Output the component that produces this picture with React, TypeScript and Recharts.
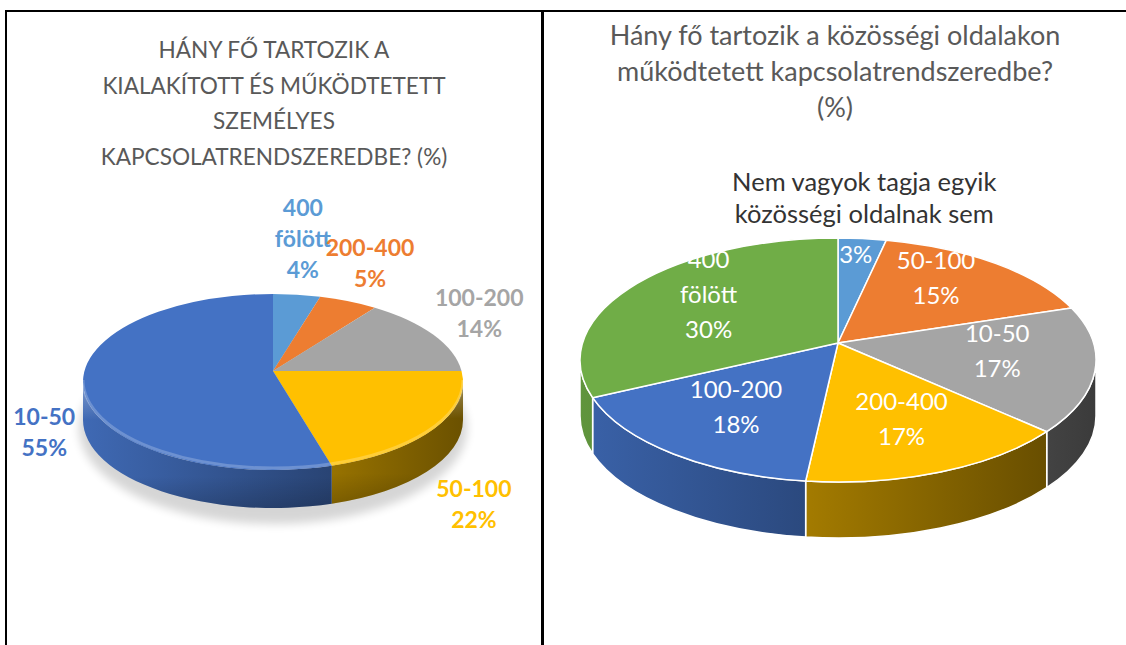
import { PieChart, Pie, Cell } from 'recharts'

// Left: size of the personal network (%)
const LEFT_NAMES = ['400 fölött', '200-400', '100-200', '50-100', '10-50']
const LEFT_VALUES = [4, 5, 14, 22, 55]
const LEFT_COLORS = ['#5B9BD5', '#ED7D31', '#A5A5A5', '#FFC000', '#4472C4']

// Right: size of the social-media network (%)
const RIGHT_NAMES = ['Nem vagyok tagja egyik közösségi oldalnak sem', '50-100', '10-50', '200-400', '100-200', '400 fölött']
const RIGHT_VALUES = [3, 15, 17, 17, 18, 30]
const RIGHT_COLORS = ['#5B9BD5', '#ED7D31', '#A5A5A5', '#FFC000', '#4472C4', '#70AD47']

const LEFT_TITLE = ['HÁNY FŐ TARTOZIK A', 'KIALAKÍTOTT ÉS MŰKÖDTETETT', 'SZEMÉLYES', 'KAPCSOLATRENDSZEREDBE? (%)']
const RIGHT_TITLE = ['Hány fő tartozik a közösségi oldalakon', 'működtetett kapcsolatrendszeredbe?', '(%)']

const leftData = LEFT_NAMES.map((name, i) => ({ name, value: LEFT_VALUES[i], i }))
const rightData = RIGHT_NAMES.map((name, i) => ({ name, value: RIGHT_VALUES[i], i }))

// fake-3D look: the pie is squashed to an ellipse and given a side wall
type Geo = {
  id: string; cx: number; cy: number; rx: number; ry: number
  depth: number; lift: number; edge: string; light: [number, number]; bevel: boolean
}
const LEFT_GEO: Geo = { id: 'l', cx: 273, cy: 382, rx: 190, ry: 88, depth: 38, lift: 11, edge: 'none', light: [0.92, 0.42], bevel: true }
const RIGHT_GEO: Geo = { id: 'r', cx: 838, cy: 360, rx: 258, ry: 122, depth: 56, lift: 17, edge: '#ffffff', light: [0.86, 0.36], bevel: false }

const RAD = Math.PI / 180
const FONT = 'Lato, "Open Sans", sans-serif'

const shade = (hex: string, f: number) => {
  const n = parseInt(hex.slice(1), 16)
  const r = Math.round(((n >> 16) & 255) * f)
  const g = Math.round(((n >> 8) & 255) * f)
  const b = Math.round((n & 255) * f)
  return `rgb(${r},${g},${b})`
}

const wrap = (s: string, max: number) => {
  const out: string[] = []
  let cur = ''
  for (const w of s.split(' ')) {
    if (cur && (cur + ' ' + w).length > max) { out.push(cur); cur = w }
    else cur = cur ? cur + ' ' + w : w
  }
  if (cur) out.push(cur)
  return out
}

function Lines({ x, y, lines, lh, fs, ...rest }: any) {
  const y0 = y - ((lines.length - 1) * lh) / 2 + fs * 0.36
  return (
    <text x={x} y={y0} textAnchor="middle" fontSize={fs} fontFamily={FONT} {...rest}>
      {lines.map((l: string, k: number) => (
        <tspan key={k} x={x} dy={k === 0 ? 0 : lh}>{l}</tspan>
      ))}
    </text>
  )
}

function slice3D(g: Geo) {
  return (p: any) => {
    const { cx, cy, outerRadius, startAngle, endAngle, fill } = p
    const rx = outerRadius
    const ry = (outerRadius * g.ry) / g.rx
    const pt = (a: number, dy = 0) => `${cx + rx * Math.cos(a * RAD)},${cy - ry * Math.sin(a * RAD) + dy}`
    const large = startAngle - endAngle > 180 ? 1 : 0
    const top = `M${cx},${cy - g.lift} L${pt(startAngle)} A${rx},${ry} 0 ${large} 1 ${pt(endAngle)} Z`

    // only the front half of the rim shows a wall
    const a1 = Math.min(startAngle, 0)
    const a2 = Math.max(endAngle, -180)
    let wall = ''
    let rim = ''
    if (a1 > a2) {
      wall = `M${pt(a1)} A${rx},${ry} 0 0 1 ${pt(a2)} L${pt(a2, g.depth)} A${rx},${ry} 0 0 0 ${pt(a1, g.depth)} Z`
      rim = `M${pt(a1, -2)} A${rx},${ry} 0 0 1 ${pt(a2, -2)}`
    }
    const idx = p.payload?.i ?? p.i
    const key = fill.slice(1)
    return (
      <g>
        {g.bevel && idx === 0 && (
          <ellipse cx={cx} cy={cy + g.depth + 8} rx={rx + 4} ry={ry + 8} fill="#000" opacity={0.16} filter={`url(#blur-${g.id})`} />
        )}
        {wall && <path d={wall} fill={`url(#wall-${g.id}-${key})`} stroke={g.edge} strokeWidth={1.5} strokeLinejoin="round" />}
        {wall && g.bevel && <path d={wall} fill={`url(#bevel-${g.id})`} />}
        <path d={top} fill={fill} stroke={g.edge} strokeWidth={1.5} strokeLinejoin="round" />
        {rim && g.bevel && <path d={rim} fill="none" stroke="rgba(255,255,255,0.22)" strokeWidth={3} />}
      </g>
    )
  }
}

function WallDefs({ g, colors }: { g: Geo; colors: string[] }) {
  return (
    <>
      {colors.map(c => (
        <linearGradient key={c} id={`wall-${g.id}-${c.slice(1)}`} gradientUnits="userSpaceOnUse"
          x1={g.cx - g.rx} y1={0} x2={g.cx + g.rx} y2={0}>
          <stop offset="0%" stopColor={shade(c, g.light[0])} />
          <stop offset="100%" stopColor={shade(c, g.light[1])} />
        </linearGradient>
      ))}
      <linearGradient id={`bevel-${g.id}`} x1="0" y1="0" x2="0" y2="1">
        <stop offset="0%" stopColor="#fff" stopOpacity={0.35} />
        <stop offset="30%" stopColor="#fff" stopOpacity={0} />
        <stop offset="75%" stopColor="#000" stopOpacity={0} />
        <stop offset="100%" stopColor="#000" stopOpacity={0.18} />
      </linearGradient>
      <filter id={`blur-${g.id}`} x="-20%" y="-40%" width="140%" height="180%">
        <feGaussianBlur stdDeviation="5" />
      </filter>
    </>
  )
}

// bold coloured labels just outside the rim
function outsideLabel(g: Geo) {
  return (p: any) => {
    const { cx, cy, outerRadius, midAngle, percent, name, index } = p
    const rx = outerRadius
    const ry = (outerRadius * g.ry) / g.rx
    const c = Math.cos(midAngle * RAD)
    const s = Math.sin(midAngle * RAD)
    const fs = 23, lh = 31, gap = 10
    const lines = [...wrap(name, 7), `${Math.round(percent * 100)}%`]
    const w = Math.max(...lines.map(l => l.length)) * fs * 0.55
    const h = lines.length * lh
    const rimX = cx + rx * c
    // below the equator the label clears the side wall (and its shadow)
    const rimY = cy - ry * s + (s < 0 ? g.depth * (0.55 + 1.6 * -s) : 0)
    return (
      <Lines key={index} x={rimX + c * (w / 2 + gap)} y={rimY - s * (h / 2 + gap)}
        lines={lines} lh={lh} fs={fs} fill={LEFT_COLORS[index]} fontWeight="bold" />
    )
  }
}

// white labels inside the slices; tiny slices put their name above the pie
function insideLabel(g: Geo) {
  return (p: any) => {
    const { cx, cy, outerRadius, midAngle, percent, name, index } = p
    const rx = outerRadius
    const ry = (outerRadius * g.ry) / g.rx
    const c = Math.cos(midAngle * RAD)
    const s = Math.sin(midAngle * RAD)
    const pct = `${Math.round(percent * 100)}%`
    if (percent < 0.05) {
      const rimX = cx + rx * c
      const rimY = cy - ry * s
      return (
        <g key={index}>
          <Lines x={cx + rx * 0.73 * c} y={cy - g.lift - ry * 0.73 * s} lines={[pct]} lh={35} fs={24} fill="#fff" />
          <Lines x={rimX + 2} y={rimY - 41} lines={wrap(name, 22)} lh={32} fs={25.5} fill="#333333" />
        </g>
      )
    }
    const x = cx + rx * 0.62 * c
    const y = cy - g.lift - ry * 0.68 * s
    return <Lines key={index} x={x} y={y} lines={[...wrap(name, 7), pct]} lh={35} fs={24} fill="#fff" />
  }
}

export default function App() {
  return (
    <div style={{ position: 'absolute', left: 0, top: 0, width: 1126, height: 645, background: '#fff', fontFamily: FONT, overflow: 'hidden' }}>
      {/* table frame */}
      <div style={{ position: 'absolute', left: 5, top: 10, width: 1121, height: 2, background: '#000' }} />
      <div style={{ position: 'absolute', left: 5, top: 10, width: 2, height: 635, background: '#000' }} />
      <div style={{ position: 'absolute', left: 541, top: 10, width: 3, height: 635, background: '#000' }} />

      <div style={{ position: 'absolute', left: 7, top: 32, width: 534, textAlign: 'center', fontSize: 22.6, lineHeight: '35.5px', color: '#595959' }}>
        {LEFT_TITLE.map(t => <div key={t}>{t}</div>)}
      </div>
      <div style={{ position: 'absolute', left: 544, top: 17, width: 582, textAlign: 'center', fontSize: 27, lineHeight: '36px', color: '#595959' }}>
        {RIGHT_TITLE.map(t => <div key={t}>{t}</div>)}
      </div>

      <div style={{ position: 'absolute', left: 0, top: 0 }}>
        <PieChart width={1126} height={645} margin={{ top: 0, right: 0, bottom: 0, left: 0 }}>
          <defs>
            <WallDefs g={LEFT_GEO} colors={LEFT_COLORS} />
            <WallDefs g={RIGHT_GEO} colors={RIGHT_COLORS} />
          </defs>
          <Pie data={leftData} dataKey="value" nameKey="name" cx={LEFT_GEO.cx} cy={LEFT_GEO.cy} outerRadius={LEFT_GEO.rx}
            startAngle={90} endAngle={-270} shape={slice3D(LEFT_GEO)} label={outsideLabel(LEFT_GEO)} labelLine={false}
            stroke="none" isAnimationActive={false}>
            {leftData.map(d => <Cell key={d.name} fill={LEFT_COLORS[d.i]} />)}
          </Pie>
          <Pie data={rightData} dataKey="value" nameKey="name" cx={RIGHT_GEO.cx} cy={RIGHT_GEO.cy} outerRadius={RIGHT_GEO.rx}
            startAngle={90} endAngle={-270} shape={slice3D(RIGHT_GEO)} label={insideLabel(RIGHT_GEO)} labelLine={false}
            stroke="none" isAnimationActive={false}>
            {rightData.map(d => <Cell key={d.name} fill={RIGHT_COLORS[d.i]} />)}
          </Pie>
        </PieChart>
      </div>
    </div>
  )
}
